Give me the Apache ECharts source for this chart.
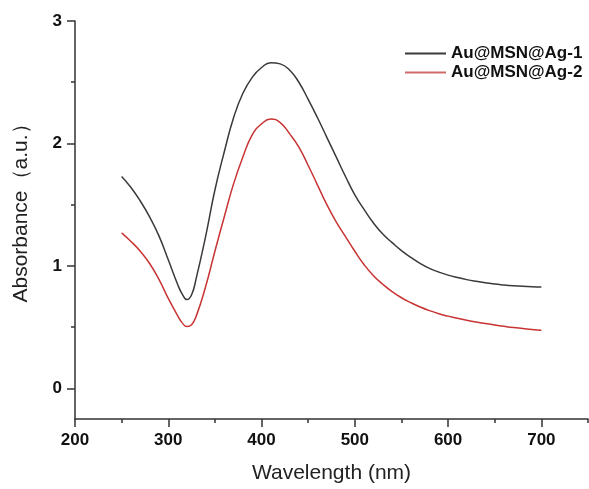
<!DOCTYPE html>
<html>
<head>
<meta charset="utf-8">
<script src="https://cdn.jsdelivr.net/npm/echarts@6/dist/echarts.min.js"></script>
<style>html,body{margin:0;padding:0;background:#fff;}#c{width:589px;height:489px;}</style>
</head>
<body>
<div id="c"></div>
<script>
var wavelengths = [250,260,270,280,290,300,310,315,320,325,330,340,350,360,370,380,390,400,410,420,430,440,450,460,470,480,490,500,510,520,530,540,550,560,570,580,590,600,610,620,630,640,650,660,670,680,690,700];
var ag1 = [1.73,1.64,1.53,1.40,1.245,1.05,0.85,0.77,0.725,0.765,0.90,1.24,1.62,1.93,2.21,2.41,2.54,2.62,2.66,2.65,2.60,2.50,2.36,2.21,2.05,1.89,1.73,1.58,1.46,1.35,1.26,1.19,1.125,1.07,1.02,0.98,0.95,0.925,0.905,0.888,0.874,0.862,0.852,0.845,0.839,0.834,0.83,0.827];
var ag2 = [1.27,1.20,1.12,1.02,0.89,0.735,0.595,0.535,0.505,0.52,0.59,0.83,1.12,1.40,1.67,1.89,2.07,2.16,2.20,2.17,2.08,1.97,1.82,1.66,1.50,1.36,1.24,1.12,1.01,0.92,0.85,0.79,0.74,0.70,0.665,0.635,0.61,0.59,0.572,0.556,0.542,0.53,0.518,0.507,0.497,0.489,0.481,0.475];
var seriesNames = ['Au@MSN@Ag-1','Au@MSN@Ag-2'];
var xTickLabels = [200,300,400,500,600,700];
var xMinorTicks = [250,350,450,550,650,750];
var yTickLabels = [0,1,2,3];
var yMinorTicks = [0.5,1.5,2.5];

function pairs(xs, ys){ return xs.map(function(x,i){ return [x, ys[i]]; }); }

var axisColor = '#333';
var labelFont = {fontFamily:'Liberation Sans, Arial', fontWeight:'bold', fontSize:17, color:'#111'};
var chart = echarts.init(document.getElementById('c'), null, {renderer:'canvas'});
chart.setOption({
  animation:false,
  backgroundColor:'#fff',
  grid:{left:75, right:1, top:21, bottom:66, containLabel:false},
  legend:{
    orient:'vertical', left:405, top:45, padding:0, itemWidth:41, itemHeight:2, itemGap:2,
    icon:'rect',
    textStyle:{fontFamily:'Liberation Sans, Arial', fontWeight:'bold', fontSize:17, color:'#111'},
    data:seriesNames
  },
  xAxis:[{
    type:'value', min:200, max:750,
    name:'Wavelength (nm)', nameLocation:'middle', nameGap:44,
    nameTextStyle:{fontFamily:'Liberation Sans, Arial', fontSize:21, color:'#222'},
    axisLine:{show:true, onZero:false, lineStyle:{color:axisColor, width:1.5}},
    axisTick:{show:true, length:8, inside:false, customValues:xTickLabels, lineStyle:{color:axisColor, width:1.5}},
    axisLabel:Object.assign({margin:13, customValues:xTickLabels}, labelFont),
    splitLine:{show:false}
  },{
    type:'value', min:200, max:750, position:'bottom',
    axisLine:{show:false, onZero:false},
    axisTick:{show:true, length:4, customValues:xMinorTicks, lineStyle:{color:axisColor, width:1.5}},
    axisLabel:{show:false},
    splitLine:{show:false}
  }],
  yAxis:[{
    type:'value', min:-0.25, max:3,
    name:'Absorbance（a.u.）', nameLocation:'middle', nameGap:43,
    nameTextStyle:{fontFamily:'Liberation Sans, Arial', fontSize:21, color:'#222', padding:[0,0,0,24]},
    axisLine:{show:true, onZero:false, lineStyle:{color:axisColor, width:1.5}},
    axisTick:{show:true, length:8, customValues:yTickLabels, lineStyle:{color:axisColor, width:1.5}},
    axisLabel:Object.assign({margin:13, customValues:yTickLabels}, labelFont),
    splitLine:{show:false}
  },{
    type:'value', min:-0.25, max:3, position:'left',
    axisLine:{show:false, onZero:false},
    axisTick:{show:true, length:4, customValues:yMinorTicks, lineStyle:{color:axisColor, width:1.5}},
    axisLabel:{show:false},
    splitLine:{show:false}
  }],
  series:[{
    name:seriesNames[0], type:'line', smooth:0.5, showSymbol:false, symbol:'none',
    data:pairs(wavelengths, ag1),
    lineStyle:{color:'#3a3a3a', width:1.5}, itemStyle:{color:'#3a3a3a'}
  },{
    name:seriesNames[1], type:'line', smooth:0.5, showSymbol:false, symbol:'none',
    data:pairs(wavelengths, ag2),
    lineStyle:{color:'#c83434', width:1.5}, itemStyle:{color:'#d06a6a'}
  }]
});
</script>
</body>
</html>
